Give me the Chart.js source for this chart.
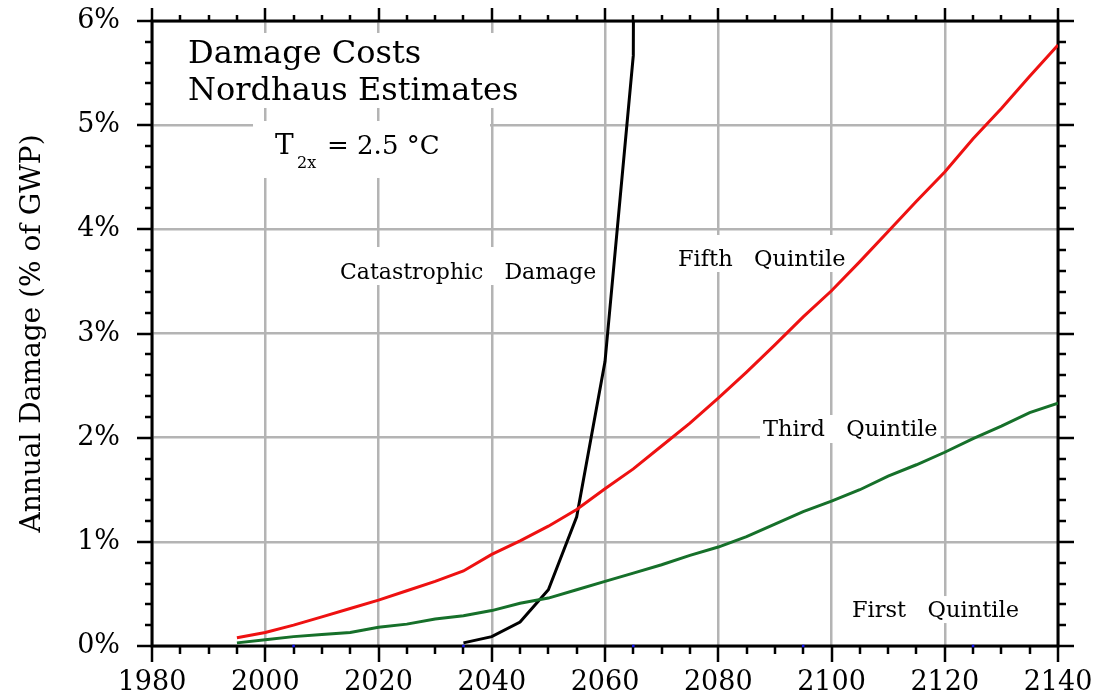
<!DOCTYPE html>
<html lang="en">
<head>
<meta charset="UTF-8">
<title>Damage Costs - Nordhaus Estimates</title>
<script src="https://cdn.jsdelivr.net/npm/chart.js@4.4.1/dist/chart.umd.min.js"></script>
<style>
  body { margin: 0; background: #fff; }
  canvas { display: block; }
</style>
</head>
<body>
<canvas id="damageChart" width="1094" height="698"></canvas>
<script>
// quintile runs, sampled every 5 years (% of GWP)
const years = [1995, 2000, 2005, 2010, 2015, 2020, 2025, 2030, 2035, 2040,
               2045, 2050, 2055, 2060, 2065, 2070, 2075, 2080, 2085, 2090,
               2095, 2100, 2105, 2110, 2115, 2120, 2125, 2130, 2135, 2140];
const fifthQuintile = [0.08, 0.13, 0.20, 0.28, 0.36, 0.44, 0.53, 0.62, 0.72, 0.88,
                       1.01, 1.15, 1.31, 1.51, 1.70, 1.92, 2.14, 2.38, 2.63, 2.89,
                       3.16, 3.41, 3.69, 3.98, 4.27, 4.55, 4.87, 5.16, 5.47, 5.77];
const thirdQuintile = [0.03, 0.06, 0.09, 0.11, 0.13, 0.18, 0.21, 0.26, 0.29, 0.34,
                       0.41, 0.46, 0.54, 0.62, 0.70, 0.78, 0.87, 0.95, 1.05, 1.17,
                       1.29, 1.39, 1.50, 1.63, 1.74, 1.86, 1.99, 2.11, 2.24, 2.33];
// catastrophic case shoots off the top after 2065
const catYears = [2035, 2040, 2045, 2050, 2055, 2060, 2065, 2070];
const catastrophic = [0.03, 0.09, 0.23, 0.54, 1.24, 2.73, 5.67, 100];
// small blue marks sitting on the time axis
const markYears = [2005, 2035, 2065, 2095, 2125];
const markValues = [0, 0, 0, 0, 0];

const majorYears = [1980, 2000, 2020, 2040, 2060, 2080, 2100, 2120, 2140];
const yLabels = ['0%', '1%', '2%', '3%', '4%', '5%', '6%'];

const serif = '"DejaVu Serif", "Liberation Serif", serif';

// text placed in data units (left edge year, baseline %)
const notes = [
  { text: 'Damage Costs', x: 1986.36, y: 5.597, size: 32 },
  { text: 'Nordhaus Estimates', x: 1986.36, y: 5.241, size: 32 },
  { text: 'T', x: 2001.72, y: 4.723, size: 28 },
  { text: '2x', x: 2005.61, y: 4.589, size: 16 },
  { text: '= 2.5 °C', x: 2010.91, y: 4.723, size: 26 },
  { text: 'Catastrophic   Damage', x: 2013.2, y: 3.523, size: 22, box: [32, 6] },
  { text: 'Fifth   Quintile', x: 2072.89, y: 3.648, size: 22.5, box: [31, 6] },
  { text: 'Third   Quintile', x: 2087.9, y: 2.016, size: 22.5, box: [21, 7] },
  { text: 'First   Quintile', x: 2103.62, y: 0.278, size: 22.5, box: [21, 6] }
];
// blank areas behind the title block and the T2x note [x0, x1, yTop, yBottom]
const blanks = [
  [1984.06, 2046.75, 5.885, 5.165],
  [1997.84, 2039.69, 5.04, 4.493]
];

function isWhole(v) {
  return Math.abs(v - Math.round(v)) < 1e-6;
}

const overlay = {
  id: 'overlay',
  beforeDatasetsDraw(chart) {
    const { ctx, chartArea: a, scales: { x, y } } = chart;
    ctx.save();

    // white patches under the annotations
    ctx.fillStyle = '#fff';
    blanks.forEach(b => {
      const x0 = x.getPixelForValue(b[0]), x1 = x.getPixelForValue(b[1]);
      const y0 = y.getPixelForValue(b[2]), y1 = y.getPixelForValue(b[3]);
      ctx.fillRect(x0, y0, x1 - x0, y1 - y0);
    });
    notes.forEach(n => {
      ctx.font = n.size + 'px ' + serif;
      const px = x.getPixelForValue(n.x), py = y.getPixelForValue(n.y);
      if (n.box) {
        const w = ctx.measureText(n.text).width;
        ctx.fillStyle = '#fff';
        ctx.fillRect(px - 3, py - n.box[0], w + 6, n.box[0] + n.box[1]);
      }
      ctx.fillStyle = '#000';
      ctx.textAlign = 'left';
      ctx.textBaseline = 'alphabetic';
      ctx.fillText(n.text, px, py);
    });

    // frame and outward ticks on all four sides
    ctx.strokeStyle = '#000';
    ctx.lineWidth = 2.5;
    ctx.beginPath();
    x.ticks.forEach(t => {
      const px = Math.round(x.getPixelForValue(t.value));
      const major = majorYears.includes(t.value);
      ctx.moveTo(px, a.bottom);
      ctx.lineTo(px, a.bottom + (major ? 16 : 8));
      ctx.moveTo(px, a.top);
      ctx.lineTo(px, a.top - (major ? 13 : 6));
    });
    y.ticks.forEach(t => {
      const py = Math.round(y.getPixelForValue(t.value));
      const major = isWhole(t.value);
      ctx.moveTo(a.left, py);
      ctx.lineTo(a.left - (major ? 15 : 7), py);
      ctx.moveTo(a.right, py);
      ctx.lineTo(a.right + (major ? 16 : 8), py);
    });
    ctx.stroke();
    ctx.lineWidth = 3;
    ctx.strokeRect(a.left, a.top, a.right - a.left, a.bottom - a.top);
    ctx.restore();
  }
};

const toPoints = (xs, ys) => xs.map((v, i) => ({ x: v, y: ys[i] }));

new Chart(document.getElementById('damageChart'), {
  type: 'line',
  data: {
    datasets: [
      {
        label: 'Fifth Quintile',
        data: toPoints(years, fifthQuintile),
        borderColor: '#ee1111',
        borderWidth: 3,
        pointRadius: 0,
        tension: 0
      },
      {
        label: 'Third Quintile',
        data: toPoints(years, thirdQuintile),
        borderColor: '#16702a',
        borderWidth: 3,
        pointRadius: 0,
        tension: 0
      },
      {
        label: 'Catastrophic Damage',
        data: toPoints(catYears, catastrophic),
        borderColor: '#000',
        borderWidth: 3,
        pointRadius: 0,
        tension: 0
      },
      {
        label: 'marks',
        data: toPoints(markYears, markValues),
        showLine: false,
        pointStyle: 'rect',
        pointRadius: 1.8,
        pointBorderWidth: 0,
        pointBackgroundColor: '#1010ee',
        clip: false
      }
    ]
  },
  options: {
    responsive: false,
    devicePixelRatio: 1,
    animation: false,
    events: [],
    layout: { padding: { top: 21, right: 36, left: 0, bottom: 0 } },
    plugins: {
      legend: { display: false },
      tooltip: { enabled: false }
    },
    scales: {
      x: {
        type: 'linear',
        min: 1980,
        max: 2140,
        afterFit: s => {
          s.height = 52;
          s.paddingLeft = 0;
          s.paddingRight = 0;
        },
        border: { display: false },
        grid: {
          color: c => majorYears.includes(c.tick.value) ? '#b4b4b4' : 'rgba(0,0,0,0)',
          lineWidth: 2.5,
          drawTicks: false
        },
        ticks: {
          stepSize: 5,
          autoSkip: false,
          maxRotation: 0,
          padding: 21,
          color: '#000',
          font: { family: serif, size: 27 },
          callback: v => majorYears.includes(v) ? String(v) : ''
        }
      },
      y: {
        min: 0,
        max: 6,
        afterFit: s => {
          s.width = 152;
          s.paddingTop = 0;
          s.paddingBottom = 0;
        },
        border: { display: false },
        grid: {
          color: c => isWhole(c.tick.value) ? '#b4b4b4' : 'rgba(0,0,0,0)',
          lineWidth: 2.5,
          drawTicks: false
        },
        ticks: {
          stepSize: 0.2,
          autoSkip: false,
          padding: 32,
          color: '#000',
          font: { family: serif, size: 27 },
          callback: v => isWhole(v) ? yLabels[Math.round(v)] : ''
        },
        title: {
          display: true,
          text: 'Annual Damage (% of GWP)',
          color: '#000',
          font: { family: serif, size: 28 },
          padding: { top: 16, bottom: 0 }
        }
      }
    }
  },
  plugins: [overlay]
});
</script>
</body>
</html>
